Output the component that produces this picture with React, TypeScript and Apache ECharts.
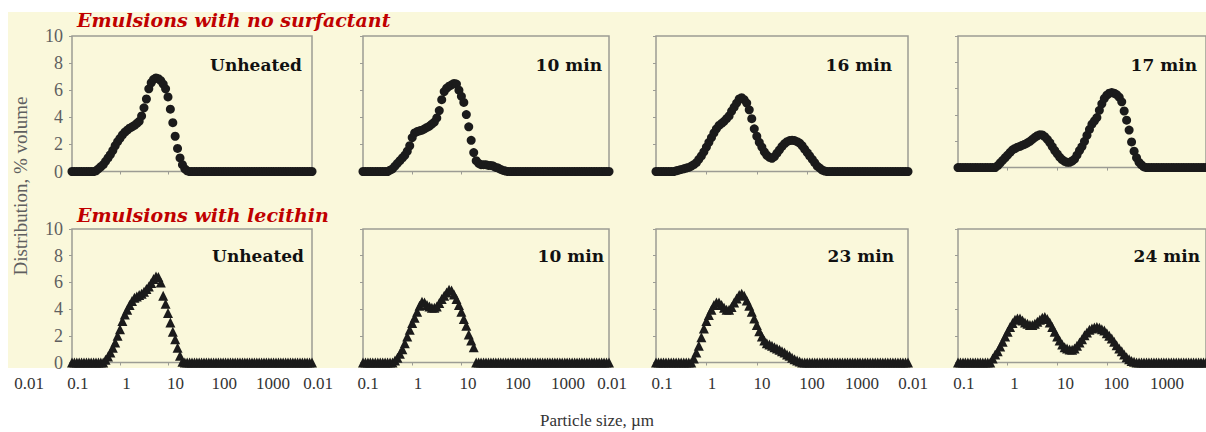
import React, { useEffect, useRef } from "react";
import * as echarts from "echarts";

// Particle-size bins (µm), 20 per decade, 0.1 – 10000
const sizes = [
  0.1, 0.112, 0.126, 0.141, 0.158, 0.178, 0.2, 0.224, 0.251, 0.282,
  0.316, 0.355, 0.398, 0.447, 0.501, 0.562, 0.631, 0.708, 0.794, 0.891,
  1, 1.12, 1.26, 1.41, 1.58, 1.78, 2, 2.24, 2.51, 2.82,
  3.16, 3.55, 3.98, 4.47, 5.01, 5.62, 6.31, 7.08, 7.94, 8.91,
  10, 11.2, 12.6, 14.1, 15.8, 17.8, 20, 22.4, 25.1, 28.2,
  31.6, 35.5, 39.8, 44.7, 50.1, 56.2, 63.1, 70.8, 79.4, 89.1,
  100, 112, 126, 141, 158, 178, 200, 224, 251, 282,
  316, 355, 398, 447, 501, 562, 631, 708, 794, 891,
  1000, 1120, 1260, 1410, 1580, 1780, 2000, 2240, 2510, 2820,
  3160, 3550, 3980, 4470, 5010, 5620, 6310, 7080, 7940, 8910,
  10000,
];

// Emulsions with no surfactant (% volume)
const noSurfUnheated = [
  0, 0, 0, 0, 0, 0, 0, 0, 0, 0,
  0.05, 0.2, 0.35, 0.5, 0.75, 1.0, 1.25, 1.55, 1.9, 2.2,
  2.45, 2.7, 2.9, 3.05, 3.2, 3.3, 3.4, 3.55, 3.7, 4.1,
  4.7, 5.35, 6.1, 6.55, 6.8, 6.9, 6.85, 6.7, 6.45, 6.1,
  5.5, 4.6, 3.6, 2.6, 1.7, 1.0, 0.5, 0.2, 0.05, 0,
  0, 0, 0, 0, 0, 0, 0, 0, 0, 0,
  0, 0, 0, 0, 0, 0, 0, 0, 0, 0,
  0, 0, 0, 0, 0, 0, 0, 0, 0, 0,
  0, 0, 0, 0, 0, 0, 0, 0, 0, 0,
  0, 0, 0, 0, 0, 0, 0, 0, 0, 0,
  0,
];
const noSurf10 = [
  0, 0, 0, 0, 0, 0, 0, 0, 0, 0,
  0, 0.1, 0.2, 0.4, 0.6, 0.8, 1.0, 1.2, 1.5, 1.9,
  2.5, 2.85, 2.95, 3.0, 3.05, 3.15, 3.25, 3.35, 3.5, 3.65,
  3.95, 4.5, 5.3, 5.9, 6.15, 6.3, 6.4, 6.5, 6.45, 6.0,
  5.55, 5.1, 4.2, 3.3, 2.3, 1.4, 0.8, 0.6, 0.5, 0.5,
  0.5, 0.45, 0.45, 0.4, 0.3, 0.25, 0.15, 0.08, 0.03, 0,
  0, 0, 0, 0, 0, 0, 0, 0, 0, 0,
  0, 0, 0, 0, 0, 0, 0, 0, 0, 0,
  0, 0, 0, 0, 0, 0, 0, 0, 0, 0,
  0, 0, 0, 0, 0, 0, 0, 0, 0, 0,
  0,
];
const noSurf16 = [
  0, 0, 0, 0, 0, 0, 0, 0, 0.05, 0.1,
  0.15, 0.2, 0.25, 0.3, 0.4, 0.5, 0.65, 0.9, 1.15, 1.45,
  1.8, 2.15, 2.5, 2.85, 3.15, 3.4, 3.55, 3.7, 3.9, 4.1,
  4.45, 4.75, 5.05, 5.35, 5.45, 5.3, 5.05, 4.55, 3.9, 3.15,
  2.6, 2.15, 1.8, 1.45, 1.2, 1.05, 0.97, 1.1, 1.35, 1.6,
  1.85, 2.05, 2.2, 2.28, 2.3, 2.28, 2.2, 2.1, 1.9, 1.65,
  1.4, 1.15, 0.9, 0.65, 0.4, 0.25, 0.1, 0.03, 0, 0,
  0, 0, 0, 0, 0, 0, 0, 0, 0, 0,
  0, 0, 0, 0, 0, 0, 0, 0, 0, 0,
  0, 0, 0, 0, 0, 0, 0, 0, 0, 0,
  0,
];
const noSurf17 = [
  0, 0, 0, 0, 0, 0, 0, 0, 0, 0,
  0, 0, 0, 0, 0, 0, 0.15, 0.35, 0.55, 0.75,
  0.95, 1.15, 1.35, 1.45, 1.55, 1.62, 1.7, 1.78, 1.88, 2.0,
  2.15, 2.3, 2.42, 2.5, 2.48, 2.35, 2.15, 1.9, 1.6, 1.3,
  1.05, 0.8, 0.6, 0.48, 0.4, 0.4, 0.5, 0.65, 0.95, 1.3,
  1.6, 2.0, 2.45, 2.9, 3.3, 3.55, 3.8, 4.35, 4.85, 5.25,
  5.5, 5.65, 5.7, 5.65, 5.55, 5.35, 5.0, 4.3, 3.6, 2.85,
  1.95, 1.25, 0.75, 0.4, 0.2, 0.05, 0, 0, 0, 0,
  0, 0, 0, 0, 0, 0, 0, 0, 0, 0,
  0, 0, 0, 0, 0, 0, 0, 0, 0, 0,
  0,
];

// Emulsions with lecithin (% volume)
const lecUnheated = [
  0, 0, 0, 0, 0, 0, 0, 0, 0, 0,
  0, 0, 0, 0, 0.2, 0.45, 0.75, 1.1, 1.5, 2.0,
  2.5, 3.1, 3.6, 3.95, 4.3, 4.6, 4.85, 4.95, 5.05, 5.15,
  5.3, 5.5, 5.7, 5.95, 6.25, 6.45, 6.4, 6.0, 5.0, 4.4,
  3.7, 3.0, 2.3, 1.75, 1.1, 0.5, 0.05, 0, 0, 0,
  0, 0, 0, 0, 0, 0, 0, 0, 0, 0,
  0, 0, 0, 0, 0, 0, 0, 0, 0, 0,
  0, 0, 0, 0, 0, 0, 0, 0, 0, 0,
  0, 0, 0, 0, 0, 0, 0, 0, 0, 0,
  0, 0, 0, 0, 0, 0, 0, 0, 0, 0,
  0,
];
const lec10 = [
  0, 0, 0, 0, 0, 0, 0, 0, 0, 0,
  0, 0, 0, 0.15, 0.35, 0.65, 1.0, 1.45, 1.95, 2.45,
  2.95, 3.35, 3.8, 4.25, 4.55, 4.5, 4.3, 4.2, 4.1, 4.1,
  4.2, 4.45, 4.75, 5.0, 5.25, 5.45, 5.4, 5.1, 4.75, 4.3,
  3.8, 3.25, 2.75, 2.1, 1.65, 1.15, 0, 0, 0, 0,
  0, 0, 0, 0, 0, 0, 0, 0, 0, 0,
  0, 0, 0, 0, 0, 0, 0, 0, 0, 0,
  0, 0, 0, 0, 0, 0, 0, 0, 0, 0,
  0, 0, 0, 0, 0, 0, 0, 0, 0, 0,
  0, 0, 0, 0, 0, 0, 0, 0, 0, 0,
  0,
];
const lec23 = [
  0, 0, 0, 0, 0, 0, 0, 0, 0, 0,
  0, 0, 0, 0, 0, 0.3, 0.75, 1.25, 1.9, 2.55,
  3.1, 3.55, 3.95, 4.3, 4.5, 4.5, 4.3, 4.1, 3.95, 3.95,
  4.15, 4.5, 4.8, 5.05, 5.15, 5.0, 4.65, 4.25, 3.8, 3.3,
  2.8, 2.35, 1.95, 1.65, 1.45, 1.35, 1.25, 1.15, 1.05, 0.95,
  0.85, 0.75, 0.6, 0.5, 0.35, 0.25, 0.15, 0.07, 0, 0,
  0, 0, 0, 0, 0, 0, 0, 0, 0, 0,
  0, 0, 0, 0, 0, 0, 0, 0, 0, 0,
  0, 0, 0, 0, 0, 0, 0, 0, 0, 0,
  0, 0, 0, 0, 0, 0, 0, 0, 0, 0,
  0,
];
const lec24 = [
  0, 0, 0, 0, 0, 0, 0, 0, 0, 0,
  0, 0, 0, 0, 0.3, 0.6, 0.85, 1.2, 1.55, 1.95,
  2.3, 2.65, 2.95, 3.2, 3.3, 3.3, 3.15, 3.0, 2.9, 2.8,
  2.8, 2.9, 3.05, 3.2, 3.35, 3.4, 3.25, 3.0, 2.65, 2.3,
  1.95, 1.65, 1.35, 1.15, 1.05, 0.98, 0.95, 1.05, 1.25, 1.5,
  1.75, 2.05, 2.25, 2.45, 2.55, 2.62, 2.65, 2.6, 2.5, 2.4,
  2.2, 2.0, 1.8, 1.55, 1.3, 1.05, 0.85, 0.6, 0.4, 0.25,
  0.12, 0.05, 0, 0, 0, 0, 0, 0, 0, 0,
  0, 0, 0, 0, 0, 0, 0, 0, 0, 0,
  0, 0, 0, 0, 0, 0, 0, 0, 0, 0,
  0,
];

const xTickLabels = ["0.01", "0.1", "1", "10", "100", "1000"];
const topLabels = ["Unheated", "10 min", "16 min", "17 min"];
const bottomLabels = ["Unheated", "10 min", "23 min", "24 min"];
const rowTitles = ["Emulsions with no surfactant", "Emulsions with lecithin"];
const xAxisTitle = "Particle size, µm";
const yAxisTitle = "Distribution, % volume";

const topSeries = [noSurfUnheated, noSurf10, noSurf16, noSurf17];
const bottomSeries = [lecUnheated, lec10, lec23, lec24];

// layout (pixels)
const panelCols = [
  { left: 72, width: 240 },
  { left: 363, width: 246 },
  { left: 656, width: 252 },
  { left: 958, width: 250 },
];
const topRows = [
  { top: 36, height: 135.5 },
  { top: 36, height: 135.5 },
  { top: 36, height: 135.5 },
  { top: 36, height: 131.6 },
];
const bottomRow = { top: 229, height: 133.5 };
const labelCols = [
  { left: 29, width: 244 },
  { left: 318, width: 250 },
  { left: 612, width: 250 },
  { left: 913, width: 254 },
];
const topLabelRight = [302, 602, 892, 1197];
const bottomLabelRight = [304, 604, 894, 1200];

export default function App() {
  const ref = useRef<HTMLDivElement>(null);

  useEffect(() => {
    if (!ref.current) return;
    const chart = echarts.init(ref.current, undefined, { renderer: "svg" });

    const grids: any[] = [];
    const xAxes: any[] = [];
    const yAxes: any[] = [];
    const series: any[] = [];

    const addPanel = (
      col: { left: number; width: number },
      row: { top: number; height: number },
      vals: number[],
      symbol: string,
      showY: boolean
    ) => {
      const gi = grids.length;
      grids.push({
        left: col.left,
        top: row.top,
        width: col.width,
        height: row.height,
        show: true,
        backgroundColor: "transparent",
        borderColor: "#9c9c94",
        borderWidth: 1.5,
        containLabel: false,
      });
      xAxes.push({
        type: "log",
        logBase: 10,
        gridIndex: gi,
        min: 0.1,
        max: 10000,
        axisLine: { show: false },
        axisTick: { show: true, length: 3, lineStyle: { color: "#9c9c94" } },
        axisLabel: { show: false },
        splitLine: { show: false },
      });
      yAxes.push({
        type: "value",
        gridIndex: gi,
        min: 0,
        max: 10,
        interval: 2,
        axisLine: { show: false },
        axisTick: { show: true, length: 3, lineStyle: { color: "#9c9c94" } },
        axisLabel: {
          show: showY,
          margin: 9,
          fontFamily: "Liberation Serif",
          fontSize: 18,
          color: "#5f5f5f",
        },
        splitLine: { show: false },
      });
      series.push({
        type: "scatter",
        xAxisIndex: gi,
        yAxisIndex: gi,
        symbol,
        symbolSize: symbol === "circle" ? 9 : 10,
        clip: false,
        itemStyle: { color: "#1b1b1b", opacity: 1 },
        data: sizes.map((s, i) => [s, vals[i]]),
      });
    };

    topSeries.forEach((vals, k) => addPanel(panelCols[k], topRows[k], vals, "circle", k === 0));
    bottomSeries.forEach((vals, k) => addPanel(panelCols[k], bottomRow, vals, "triangle", k === 0));

    // tick label strips under the bottom row
    labelCols.forEach((col) => {
      const gi = grids.length;
      grids.push({ left: col.left, top: 361.5, width: col.width, height: 1, show: false });
      xAxes.push({
        type: "category",
        gridIndex: gi,
        data: xTickLabels,
        boundaryGap: false,
        axisLine: { show: false },
        axisTick: { show: false },
        splitLine: { show: false },
        axisLabel: {
          interval: 0,
          margin: 12,
          fontFamily: "Liberation Serif",
          fontSize: 17,
          color: "#333",
        },
      });
      yAxes.push({ type: "value", gridIndex: gi, show: false });
    });

    const graphics: any[] = [
      {
        type: "rect",
        z: -10,
        shape: { x: 8, y: 12, width: 1198, height: 356 },
        style: { fill: "#faf8db" },
      },
      ...rowTitles.map((t, r) => ({
        type: "text",
        x: 77,
        y: r === 0 ? 20 : 215,
        style: {
          text: t,
          fill: "#c00000",
          fontFamily: "DejaVu Serif",
          fontWeight: "bold",
          fontStyle: "italic",
          fontSize: 19,
          align: "left",
          verticalAlign: "middle",
        },
      })),
      ...topLabels.map((t, k) => ({
        type: "text",
        x: topLabelRight[k],
        y: 65,
        style: {
          text: t,
          fill: "#111",
          fontFamily: "DejaVu Serif",
          fontWeight: "bold",
          fontSize: 17,
          align: "right",
          verticalAlign: "middle",
        },
      })),
      ...bottomLabels.map((t, k) => ({
        type: "text",
        x: bottomLabelRight[k],
        y: 256,
        style: {
          text: t,
          fill: "#111",
          fontFamily: "DejaVu Serif",
          fontWeight: "bold",
          fontSize: 17,
          align: "right",
          verticalAlign: "middle",
        },
      })),
      {
        type: "text",
        x: 597,
        y: 420,
        style: {
          text: xAxisTitle,
          fill: "#333",
          fontFamily: "Liberation Serif",
          fontSize: 17,
          align: "center",
          verticalAlign: "middle",
        },
      },
      {
        type: "text",
        x: 20,
        y: 186,
        rotation: Math.PI / 2,
        style: {
          text: yAxisTitle,
          fill: "#5f5f5f",
          fontFamily: "Liberation Serif",
          fontSize: 19,
          align: "center",
          verticalAlign: "middle",
        },
      },
    ];

    chart.setOption({
      animation: false,
      backgroundColor: "#ffffff",
      grid: grids,
      xAxis: xAxes,
      yAxis: yAxes,
      series,
      graphic: { elements: graphics },
    });

    return () => chart.dispose();
  }, []);

  return (
    <div
      ref={ref}
      style={{ position: "fixed", left: 0, top: 0, width: 1206, height: 432 }}
    />
  );
}
